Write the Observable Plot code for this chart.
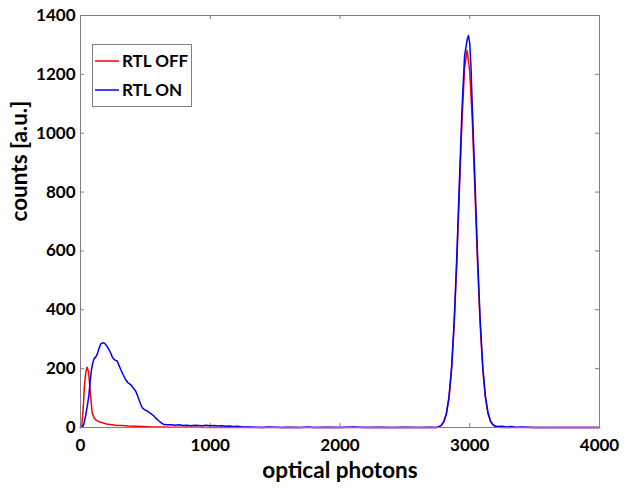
<!DOCTYPE html>
<html>
<head>
<meta charset="utf-8">
<script src="https://cdn.jsdelivr.net/npm/d3@7"></script>
<script src="https://cdn.jsdelivr.net/npm/@observablehq/plot@0.6"></script>
<style>
  html, body { margin: 0; padding: 0; background: #fff; }
  #wrap { position: relative; width: 629px; height: 488px; font-family: Lato, "Open Sans", sans-serif; }
  #legend { position: absolute; left: 92px; top: 44px; width: 100px; height: 63px; border: 1px solid #7f7f7f; background: #fff; box-sizing: border-box; }
  .item { position: absolute; left: 2px; display: flex; align-items: center; font-weight: bold; font-size: 17px; color: #000; }
  .item svg { margin-right: 3px; }
</style>
</head>
<body>
<div id="wrap"></div>
<script>
const xTicks = [0, 1000, 2000, 3000, 4000];
const yTicks = [0, 200, 400, 600, 800, 1000, 1200, 1400];
const seriesNames = ["RTL OFF", "RTL ON"];
const seriesColors = ["#ff0000", "#0000ff"];

// RTL OFF
const offX = [0, 10, 20, 30, 40, 50, 55, 62, 70, 78, 90, 105, 120, 145, 170, 200, 230, 270, 320, 370, 420, 480, 550, 620, 700, 800, 900, 1000, 1500, 2000, 2500, 2740,
  2760, 2780, 2800, 2820, 2840, 2860, 2880, 2900, 2920, 2940, 2960, 2980, 3000, 3020, 3040, 3060, 3080, 3100, 3120, 3140, 3160, 3180, 3200, 3220, 3260, 4000];
const offY = [0, 5, 60, 140, 185, 205, 198, 190, 150, 105, 50, 32, 25, 19, 16, 12, 10, 8, 7, 5, 4, 3, 2, 2, 1, 1, 1, 0, 0, 0, 0, 0,
  2, 7, 19, 46, 100, 197, 348, 557, 801, 1039, 1220, 1281, 1208, 1039, 801, 560, 352, 200, 102, 48, 20, 8, 3, 1, 0, 0];

// RTL ON
const onX = [0, 15, 25, 40, 55, 65, 75, 85, 95, 105, 118, 130, 142, 155, 170, 185, 200, 215, 232, 245, 257, 270, 283, 296, 309, 328, 347, 366, 386, 405, 425, 438, 450, 463, 476, 495, 515, 540, 566, 585, 605, 625, 643, 670,
  700, 730, 760, 790, 820, 850, 880, 910, 940, 970, 1000, 1030, 1060, 1090, 1120, 1150, 1180, 1210, 1250, 1300, 1350, 1400, 1450, 1500, 1550, 1600, 1700, 1750, 1800, 1900, 2000, 2100, 2200, 2300, 2400, 2500, 2600, 2700, 2740,
  2760, 2780, 2800, 2820, 2840, 2860, 2880, 2900, 2920, 2940, 2960, 2980, 2990, 3000, 3010, 3020, 3040, 3060, 3080, 3100, 3120, 3140, 3160, 3180, 3200, 3220, 3250, 3280, 3320, 3360, 3400, 3450, 3500, 4000];
const onY = [0, 2, 10, 40, 80, 110, 160, 198, 220, 234, 240, 250, 268, 283, 288, 286, 279, 268, 254, 240, 232, 228, 226, 212, 198, 180, 163, 152, 146, 135, 124, 110, 95, 80, 67, 60, 56, 48, 39, 30, 22, 15, 10, 9,
  9, 8, 9, 7, 8, 6, 8, 7, 6, 8, 6, 7, 5, 6, 4, 5, 3, 4, 2, 2, 1, 0, 2, 1, 0, 1, 0, 2, 0, 1, 0, 2, 0, 1, 0, 1, 0, 1, 0,
  2, 7, 20, 48, 104, 205, 362, 579, 833, 1080, 1262, 1318, 1332, 1305, 1220, 1085, 840, 585, 368, 210, 108, 52, 22, 9, 4, 3, 4, 2, 3, 1, 2, 1, 0, 0];

const off = offX.map((x, i) => ({x, y: offY[i]}));
const on = onX.map((x, i) => ({x, y: onY[i]}));

const W = 629, H = 488, mL = 80, mR = 30, mT = 15, mB = 61;
const pw = W - mL - mR, ph = H - mT - mB, tk = 4;
const gray = "#7f7f7f";

const chart = Plot.plot({
  width: W, height: H,
  marginLeft: mL, marginRight: mR, marginTop: mT, marginBottom: mB,
  x: {domain: [0, 4000]},
  y: {domain: [0, 1400]},
  style: {fontFamily: "Lato, 'Open Sans', sans-serif", fontWeight: "bold", fontSize: "17px", color: "#000", background: "#fff"},
  marks: [
    Plot.axisX(xTicks, {tickSize: 0, tickPadding: 11, label: null, tickFormat: d => String(d), fontSize: 17, fontWeight: "bold"}),
    Plot.axisY(yTicks, {tickSize: 0, tickPadding: 5, label: null, tickFormat: d => String(d), fontSize: 17, fontWeight: "bold"}),
    Plot.tickX(xTicks, {x: d => d, insetTop: ph - tk, stroke: gray}),
    Plot.tickX(xTicks, {x: d => d, insetBottom: ph - tk, stroke: gray}),
    Plot.tickY(yTicks, {y: d => d, insetRight: pw - tk, stroke: gray}),
    Plot.tickY(yTicks, {y: d => d, insetLeft: pw - tk, stroke: gray}),
    Plot.line(off, {x: "x", y: "y", stroke: seriesColors[0], strokeWidth: 1.5}),
    Plot.line(on, {x: "x", y: "y", stroke: seriesColors[1], strokeWidth: 1.5}),
    Plot.frame({stroke: gray, strokeWidth: 1}),
    Plot.text(["optical photons"], {frameAnchor: "bottom", dy: 50, fontSize: 22.5, fontWeight: "bold", fill: "#000"}),
    Plot.text(["counts [a.u.]"], {frameAnchor: "left", dx: -61, rotate: -90, fontSize: 22.5, fontWeight: "bold", fill: "#000"})
  ]
});

const wrap = document.getElementById("wrap");
wrap.appendChild(chart);
const legend = document.createElement("div");
legend.id = "legend";
seriesNames.forEach((n, i) => {
  const it = document.createElement("div");
  it.className = "item";
  it.style.top = (i === 0 ? 5 : 34) + "px";
  it.innerHTML = `<svg width="24" height="4"><line x1="0" x2="24" y1="2" y2="2" stroke="${seriesColors[i]}" stroke-width="1.5"/></svg>`;
  it.appendChild(document.createTextNode(n));
  legend.appendChild(it);
});
wrap.appendChild(legend);
</script>
</body>
</html>
